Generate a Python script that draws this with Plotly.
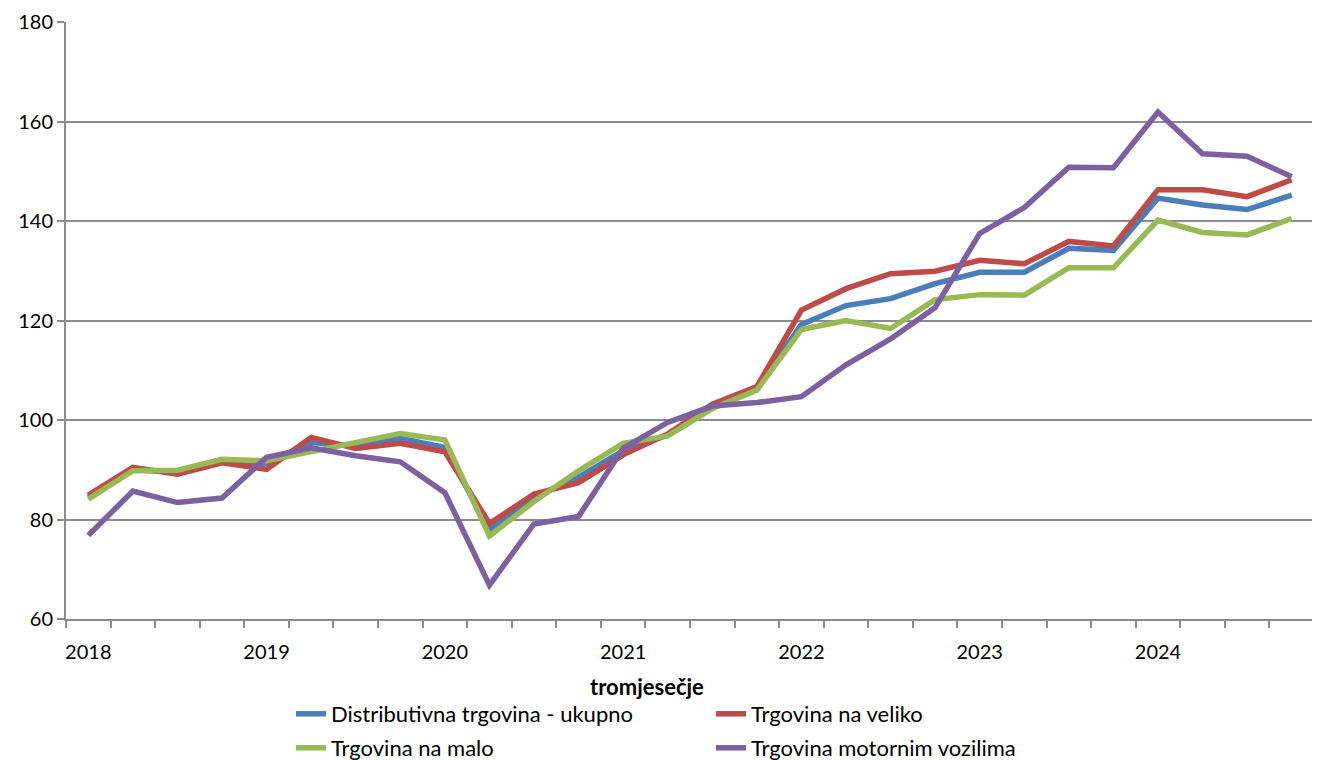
import plotly.graph_objects as go

quarters = [f"{y} Q{q}" for y in range(2018, 2025) for q in range(1, 5)]
year_labels = ["2018", "2019", "2020", "2021", "2022", "2023", "2024"]

ukupno = [84.5, 90.0, 89.5, 91.7, 91.3, 95.5, 94.8, 96.3, 94.5, 77.9,
          84.5, 88.5, 93.8, 97.0, 102.8, 106.3, 119.2, 123.0, 124.4, 127.4,
          129.7, 129.7, 134.5, 134.1, 144.6, 143.2, 142.3, 145.2]
veliko = [84.9, 90.5, 89.1, 91.4, 90.1, 96.5, 94.3, 95.3, 93.6, 79.2,
          85.1, 87.4, 93.0, 97.2, 103.2, 106.7, 122.1, 126.4, 129.4, 129.9,
          132.1, 131.4, 135.9, 135.0, 146.3, 146.3, 144.9, 148.3]
malo = [84.1, 89.8, 89.9, 92.1, 91.8, 93.6, 95.3, 97.3, 96.0, 76.7,
        83.6, 89.8, 95.3, 96.8, 102.3, 106.0, 118.2, 120.0, 118.4, 124.2,
        125.2, 125.1, 130.6, 130.6, 140.2, 137.7, 137.2, 140.5]
motorna = [76.8, 85.7, 83.4, 84.3, 92.5, 94.4, 92.8, 91.6, 85.4, 66.8,
           79.1, 80.6, 94.3, 99.5, 102.8, 103.5, 104.7, 111.1, 116.3, 122.6,
           137.5, 142.7, 150.8, 150.7, 161.9, 153.5, 153.0, 148.9]

series = [
    ("Distributivna trgovina - ukupno", ukupno, "#4A7EBB", "legend"),
    ("Trgovina na veliko", veliko, "#BE4B48", "legend"),
    ("Trgovina na malo", malo, "#98B954", "legend2"),
    ("Trgovina motornim vozilima", motorna, "#7D60A0", "legend2"),
]

FONT = "Lato, 'Open Sans', sans-serif"
xs = list(range(len(quarters)))

# page body has an 8px margin, so the figure is 8px smaller and offset
W, H = 1312, 752
OFF = 8

fig = go.Figure()
for name, vals, col, leg in series:
    fig.add_trace(go.Scatter(
        x=xs, y=vals, name=name, mode="lines", legend=leg,
        line=dict(color=col, width=5.5), customdata=quarters,
        hovertemplate="%{customdata}: %{y}<extra>" + name + "</extra>",
    ))

grid = "#8C8C8C"
leg_common = dict(orientation="h", xref="container", yref="container",
                  xanchor="left", yanchor="top",
                  entrywidth=375, entrywidthmode="pixels",
                  font=dict(size=22), bgcolor="rgba(0,0,0,0)")
fig.update_layout(
    width=W, height=H,
    margin=dict(l=66 - OFF, r=6, t=22 - OFF, b=H - (619 - OFF), autoexpand=False),
    paper_bgcolor="white", plot_bgcolor="white",
    font=dict(family=FONT, size=20, color="black"),
    showlegend=True,
    legend=dict(x=(291 - OFF) / W, y=1 - (693 - OFF) / H, **leg_common),
    legend2=dict(x=(291 - OFF) / W, y=1 - (727 - OFF) / H, **leg_common),
    xaxis=dict(
        range=[-0.5, len(quarters) - 0.5], automargin=False,
        tickmode="array", tickvals=xs[::4], ticktext=year_labels,
        ticks="", showgrid=False, zeroline=False,
        showline=True, linecolor=grid, linewidth=2,
        tickfont=dict(size=20), ticklabelstandoff=14,
        minor=dict(tickmode="linear", tick0=-0.5, dtick=1, ticks="outside",
                   ticklen=7, tickcolor=grid, tickwidth=1.5, showgrid=False),
    ),
    yaxis=dict(
        range=[60, 180], dtick=20, tick0=60, automargin=False,
        showgrid=True, gridcolor=grid, gridwidth=1.5,
        zeroline=False, showline=True, linecolor=grid, linewidth=2,
        ticks="outside", ticklen=7, tickcolor=grid, tickwidth=1.5,
        tickfont=dict(size=20),
    ),
    annotations=[dict(text="<b>tromjesečje</b>", xref="paper", yref="paper",
                      x=(647 - 66) / 1248, y=(619 - 686) / 597, showarrow=False,
                      xanchor="center", yanchor="middle",
                      font=dict(size=22, family=FONT))],
)

fig.write_html("out.html")
